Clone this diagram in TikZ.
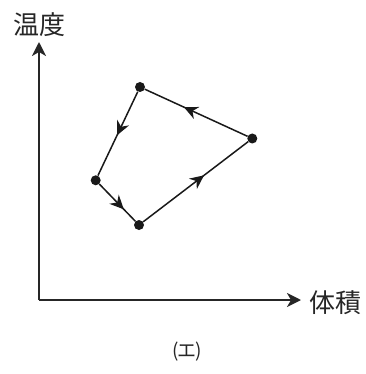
\documentclass[tikz,border=0pt]{standalone}
\usepackage{fontspec}
\newfontfamily\cjk{Noto Sans CJK JP}[Scale=1]
\newfontfamily\cjkthin{Noto Sans CJK JP Light}
\usetikzlibrary{arrows.meta,decorations.markings}
\tikzset{
  pt/.style={circle,fill=black!90,inner sep=0pt,minimum size=10pt},
  axis/.style={line width=2.2pt,black!85,-{Stealth[length=14pt,width=14pt,inset=4pt]}},
  edgeline/.style={line width=1.5pt,black!90},
  midtip/.style={postaction={decorate,decoration={markings,mark=at position #1 with {\arrow{Stealth[length=14pt,width=13pt,inset=4.5pt]}}}}},
  lab/.style={font=\cjk\fontsize{26pt}{26pt}\selectfont,text=black!85,inner sep=0pt}
}
\begin{document}
\begin{tikzpicture}[x=1pt,y=-1pt]
\useasboundingbox (0,0) rectangle (365,374);
\coordinate (o) at (39,300);
\coordinate (ytop) at (39,42);
\coordinate (xend) at (301,300);
\node[pt] (a) at (140,87) {};
\node[pt] (b) at (252.3,138.5) {};
\node[pt] (c) at (139,225) {};
\node[pt] (d) at (95.7,180.3) {};
\draw[axis] (o) -- (ytop);
\draw[axis] (o) -- (xend);
\draw[edgeline,midtip=0.62] (b) -- (a);
\draw[edgeline,midtip=0.52] (a) -- (d);
\draw[edgeline,midtip=0.68] (d) -- (c);
\draw[edgeline,midtip=0.58] (c) -- (b);
\node[lab] (ylab) at (39,25) {温度};
\node[lab] (xlab) at (335,303) {体積};
\node[lab,font=\cjk\fontsize{19pt}{19pt}\selectfont] (cap) at (187,352) {(\kern-1.5ptエ\kern-1.5pt)};
\end{tikzpicture}
\end{document}
